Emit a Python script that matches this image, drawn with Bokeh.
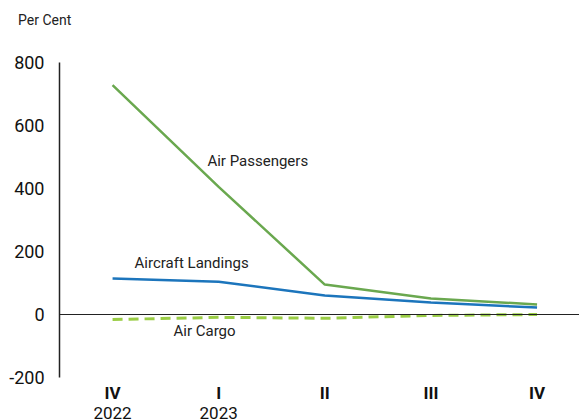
from bokeh.plotting import figure
from bokeh.layouts import column
from bokeh.models import Range1d, LinearAxis, FixedTicker, Span, Label, Div
from bokeh.embed import file_html
from bokeh.resources import INLINE

quarters = ["IV", "I", "II", "III", "IV"]
years = ["2022", "2023", "", "", ""]
air_passengers = [728, 405, 95, 51, 32]
aircraft_landings = [114, 104, 60, 38, 22]
air_cargo = [-16, -9, -12, -3, 0]
y_ticks = [-200, 0, 200, 400, 600, 800]

xs = list(range(len(quarters)))
FONT = "Roboto"

p = figure(frame_width=520, frame_height=315, output_backend="svg", toolbar_location=None,
           x_range=Range1d(-0.5, 4.4), y_range=Range1d(-200, 800),
           min_border_left=59, min_border_right=0, min_border_top=22, min_border_bottom=0,
           x_axis_location=None)
p.outline_line_color = None
p.xgrid.visible = False
p.ygrid.visible = False
p.background_fill_color = "white"
p.border_fill_color = "white"

# y axis
ya = p.yaxis[0]
ya.ticker = FixedTicker(ticks=y_ticks)
ya.major_label_overrides = {t: str(t) for t in y_ticks}
ya.major_tick_line_color = None
ya.minor_tick_line_color = None
ya.axis_line_color = "#222222"
ya.axis_line_width = 1.5
ya.major_label_text_font = FONT
ya.major_label_text_font_size = "18px"
ya.major_label_text_color = "#111111"
ya.major_label_standoff = 9

# x axes: bold quarters and years
qa = LinearAxis(ticker=FixedTicker(ticks=xs),
                major_label_overrides={i: q for i, q in enumerate(quarters)})
qa.axis_line_color = None
qa.major_tick_line_color = None
qa.minor_tick_line_color = None
qa.major_label_text_font = FONT
qa.major_label_text_font_style = "bold"
qa.major_label_text_font_size = "17px"
qa.major_label_text_color = "#111111"
qa.major_label_standoff = -1
p.add_layout(qa, "below")

ya2 = LinearAxis(ticker=FixedTicker(ticks=xs),
                 major_label_overrides={i: y if y else " " for i, y in enumerate(years)})
ya2.axis_line_color = None
ya2.major_tick_line_color = None
ya2.minor_tick_line_color = None
ya2.major_label_text_font = FONT
ya2.major_label_text_font_size = "17px"
ya2.major_label_text_color = "#111111"
ya2.major_label_standoff = -9
p.add_layout(ya2, "below")

# zero line
p.add_layout(Span(location=0, dimension="width", line_color="#222222", line_width=1.2))

p.line(xs, air_passengers, line_color="#6AA84F", line_width=2.5)
p.line(xs, aircraft_landings, line_color="#1C75BC", line_width=2.5)
p.line(xs, air_cargo, line_color="#9ACD45", line_width=3, line_dash="10 6")

for txt, x, y in [("Air Passengers", 0.894, 486), ("Aircraft Landings", 0.207, 165), ("Air Cargo", 0.574, -51)]:
    p.add_layout(Label(x=x, y=y, text=txt, text_font=FONT, text_font_size="15px",
                       text_color="#222222", text_baseline="middle", text_align="left"))

caption = Div(text="Per Cent", width=200, height=40, margin=(0, 0, 0, 18),
              styles={"font-family": "Roboto", "font-size": "14px", "color": "#222222",
                      "line-height": "16px", "padding-top": "12px"})

layout = column(caption, p, spacing=0)
open("out.html", "w").write(file_html(layout, INLINE))
